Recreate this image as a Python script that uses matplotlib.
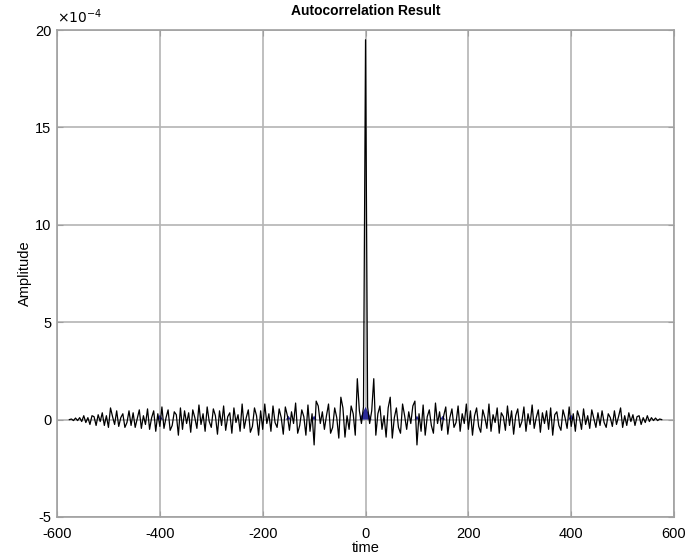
import numpy as np
import matplotlib
matplotlib.use('Agg')
import matplotlib.pyplot as plt

### Data (amplitude in units of 1e-4, positive lags; autocorrelation is symmetric)
pos_lags = np.arange(0, 577, 4)
pos_vals = [19.5, 0.65, -0.2, 0.45, 2.1, -0.8, 0.3, 0.7, -0.5, 0.2,
            -0.9, 0.6, 1.15, -0.95, 0.1, 0.6, -0.4, -0.7, 0.8, 0.2,
            -0.5, 0.4, -0.2, 0.7, 0.95, -1.3, 0.3, -0.6, 0.75, -0.8,
            0.15, 0.5, -0.3, -0.7, 0.85, -0.2, 0.4, -0.55, 0.2, 0.65,
            -0.75, 0.1, 0.55, -0.4, -0.15, 0.7, -0.6, 0.3, -0.2, 0.8,
            -0.5, 0.45, -0.8, 0.2, 0.6, -0.35, -0.65, 0.5, 0.1, -0.45,
            0.8, -0.6, 0.25, -0.15, 0.6, -0.7, 0.35, 0.15, -0.55, 0.7,
            -0.3, 0.45, -0.75, 0.2, 0.55, -0.4, -0.1, 0.65, -0.6, 0.3,
            -0.25, 0.75, -0.45, 0.1, 0.5, -0.65, 0.35, -0.2, 0.45, -0.5,
            0.6, -0.8, 0.25, 0.4, -0.3, -0.55, 0.5, 0.1, -0.45, 0.65,
            -0.35, 0.3, -0.6, 0.45, 0.1, -0.5, 0.55, -0.25, 0.2, -0.45,
            0.5, 0.05, -0.4, 0.35, -0.3, 0.45, -0.15, -0.4, 0.3, 0.1,
            -0.35, 0.45, -0.25, 0.15, 0.6, -0.4, 0.2, -0.3, 0.35, -0.1,
            0.25, -0.3, 0.15, 0.2, -0.25, 0.1, -0.15, 0.2, -0.1, 0.1,
            -0.05, 0.08, -0.05, 0.03, 0.0]

# small blue patches drawn under the trace
blob_centers = [0, -400, 400, -150, 150, -100, 100]
blob_heights = [0.65, 0.25, 0.25, 0.2, 0.2, 0.2, 0.2]
blob_halfwidths = [12, 6, 6, 5, 5, 5, 5]

lags = np.concatenate([-pos_lags[:0:-1], pos_lags])
vals = np.concatenate([np.array(pos_vals)[:0:-1], pos_vals])

plt.rcParams['font.family'] = ['Liberation Sans', 'DejaVu Sans']
plt.rcParams['axes.unicode_minus'] = False

fig = plt.figure(figsize=(6.98, 5.54), dpi=100)
ax = fig.add_axes([0.0817, 0.0668, 0.884, 0.879])

for c, h, w in zip(blob_centers, blob_heights, blob_halfwidths):
    ax.fill([c - w, c, c + w], [0, h, 0], color='#2a2a9a', zorder=2, lw=0)

ax.plot(lags, vals, color='black', lw=0.9, zorder=3)

ax.set_xlim(-600, 600)
ax.set_ylim(-5, 20)
ax.set_xticks(np.arange(-600, 601, 200))
ax.set_yticks(np.arange(-5, 21, 5))

ax.text(0.0, 1.008, r'$\times10^{-4}$', transform=ax.transAxes,
        fontsize=10, ha='left', va='bottom')

ax.grid(True, color='#b4b4b4', lw=1.2)
ax.set_axisbelow(True)
for s in ax.spines.values():
    s.set_color('#a0a0a0')
    s.set_linewidth(1.2)
ax.tick_params(direction='in', length=4, color='#a0a0a0', labelsize=10.5,
               top=True, right=True)
ax.tick_params(axis='x', pad=7)
ax.tick_params(axis='y', pad=4)

ax.set_title('Autocorrelation Result', fontsize=10, fontweight='bold', pad=11)
ax.set_xlabel('time', fontsize=10.5, labelpad=0)
ax.set_ylabel('Amplitude', fontsize=10.5, labelpad=2)

fig.savefig('out.png', dpi=100)
